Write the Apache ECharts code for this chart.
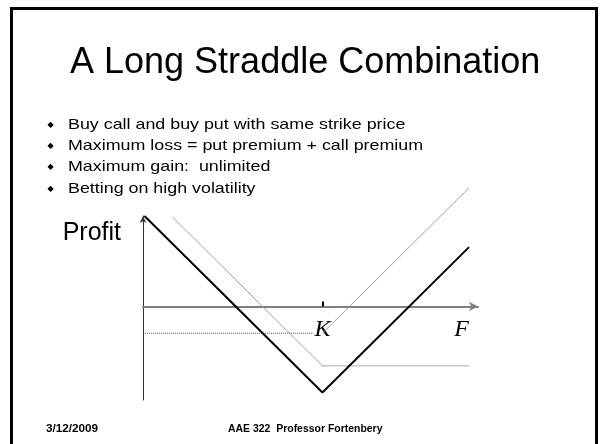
<!DOCTYPE html>
<html>
<head>
<meta charset="utf-8">
<title>A Long Straddle Combination</title>
<script src="https://cdn.jsdelivr.net/npm/echarts@6/dist/echarts.min.js"></script>
<style>
  html, body { margin: 0; padding: 0; background: #fff; }
  #chart { width: 600px; height: 444px; }
</style>
</head>
<body>
<div id="chart"></div>
<script>
// slide text
var slideTitle = 'A Long Straddle Combination';
var bullets = [
    'Buy call and buy put with same strike price',
    'Maximum loss = put premium + call premium',
    'Maximum gain:  unlimited',
    'Betting on high volatility'
];
var footerDate = '3/12/2009';
var footerCourse = 'AAE 322  Professor Fortenbery';

// payoff diagram: futures price F on x, profit on y, strike K = 60
var strike = 60;
var xLabels = ['K', 'F'];
var xLabelValues = [60, 106.5];
var straddle = [[0.5, 30.5], [60, -29], [109, 20]];   // long straddle (bold)
var putLine = [[10, 30], [60, -20]];                  // long put
var putFlat = [[60, -20], [109, -20]];                // put premium lost
var callFlat = [[0.7, -9], [57, -9]];                 // call premium lost
var callLine = [[60, -9], [109, 40]];                 // long call

var sans = '"Liberation Sans", Arial, sans-serif';
var serif = '"Liberation Serif", "Times New Roman", serif';

var chart = echarts.init(document.getElementById('chart'));

function lineSeries(name, data, color, width, type) {
    return {
        name: name,
        type: 'line',
        data: data,
        symbol: 'none',
        clip: false,
        silent: true,
        lineStyle: { color: color, width: width, type: type || 'solid' }
    };
}

// slide frame, bullet list and footer drawn as plain text
var graphics = [{
    type: 'rect',
    shape: { x: 11.5, y: 8.5, width: 585, height: 460 },
    style: { fill: 'none', stroke: '#000', lineWidth: 3 }
}];
bullets.forEach(function (b, i) {
    var y = 124.5 + i * 21.4;
    graphics.push({
        type: 'text', x: 47.5, y: y,
        style: { text: '\u25C6', font: '8px "DejaVu Sans"', fill: '#000', verticalAlign: 'middle' }
    });
    graphics.push({
        type: 'text', x: 68, y: y, scaleX: 1.19,
        style: { text: b, font: '15px ' + sans, fill: '#000', verticalAlign: 'middle' }
    });
});
graphics.push({
    type: 'text', x: 46, y: 429, scaleX: 1.17,
    style: { text: footerDate, font: 'bold 10px ' + sans, fill: '#000', verticalAlign: 'middle' }
});
graphics.push({
    type: 'text', x: 228, y: 429, scaleX: 1.045,
    style: { text: footerCourse, font: 'bold 10px ' + sans, fill: '#000', verticalAlign: 'middle' }
});

chart.setOption({
    backgroundColor: '#fff',
    animation: false,
    title: {
        text: slideTitle,
        left: 70,
        top: 45.5,
        padding: 0,
        textStyle: { fontFamily: sans, fontSize: 36, fontWeight: 'normal', color: '#000' }
    },
    grid: {
        left: 143,
        right: 122,
        top: 216,
        bottom: 44,
        containLabel: false,
        outerBoundsMode: 'none'
    },
    xAxis: {
        type: 'value',
        min: 0,
        max: 112,
        axisLine: {
            onZero: true,
            symbol: ['none', 'arrow'],
            symbolSize: [7, 9],
            lineStyle: { color: '#808080', width: 2 }
        },
        axisTick: {
            show: true,
            customValues: [strike],
            inside: true,
            length: 5,
            lineStyle: { color: '#000', width: 2 }
        },
        axisLabel: {
            customValues: xLabelValues,
            formatter: function (v) { return xLabels[xLabelValues.indexOf(v)]; },
            // labels sit under the zero line, not under the grid bottom
            margin: -82,
            fontFamily: serif,
            fontStyle: 'italic',
            fontSize: 24,
            color: '#000'
        },
        splitLine: { show: false }
    },
    yAxis: {
        type: 'value',
        min: -31.5,
        max: 30.5,
        name: 'Profit',
        nameLocation: 'end',
        nameGap: -5,
        nameTextStyle: {
            fontFamily: sans,
            fontSize: 25,
            color: '#000',
            align: 'right',
            verticalAlign: 'top',
            padding: [0, 22, 0, 0]
        },
        axisLine: {
            show: true,
            onZero: false,
            symbol: ['none', 'arrow'],
            symbolSize: [5, 7],
            lineStyle: { color: '#333', width: 1 }
        },
        axisTick: { show: false },
        axisLabel: { show: false },
        splitLine: { show: false }
    },
    series: [
        lineSeries('Put', putLine, '#a0a0a0', 1),
        lineSeries('Put premium', putFlat, '#555', 1, 'dotted'),
        lineSeries('Call premium', callFlat, '#555', 1, 'dotted'),
        lineSeries('Call', callLine, '#a0a0a0', 1),
        lineSeries('Long straddle', straddle, '#000', 2)
    ],
    graphic: graphics
});
</script>
</body>
</html>
